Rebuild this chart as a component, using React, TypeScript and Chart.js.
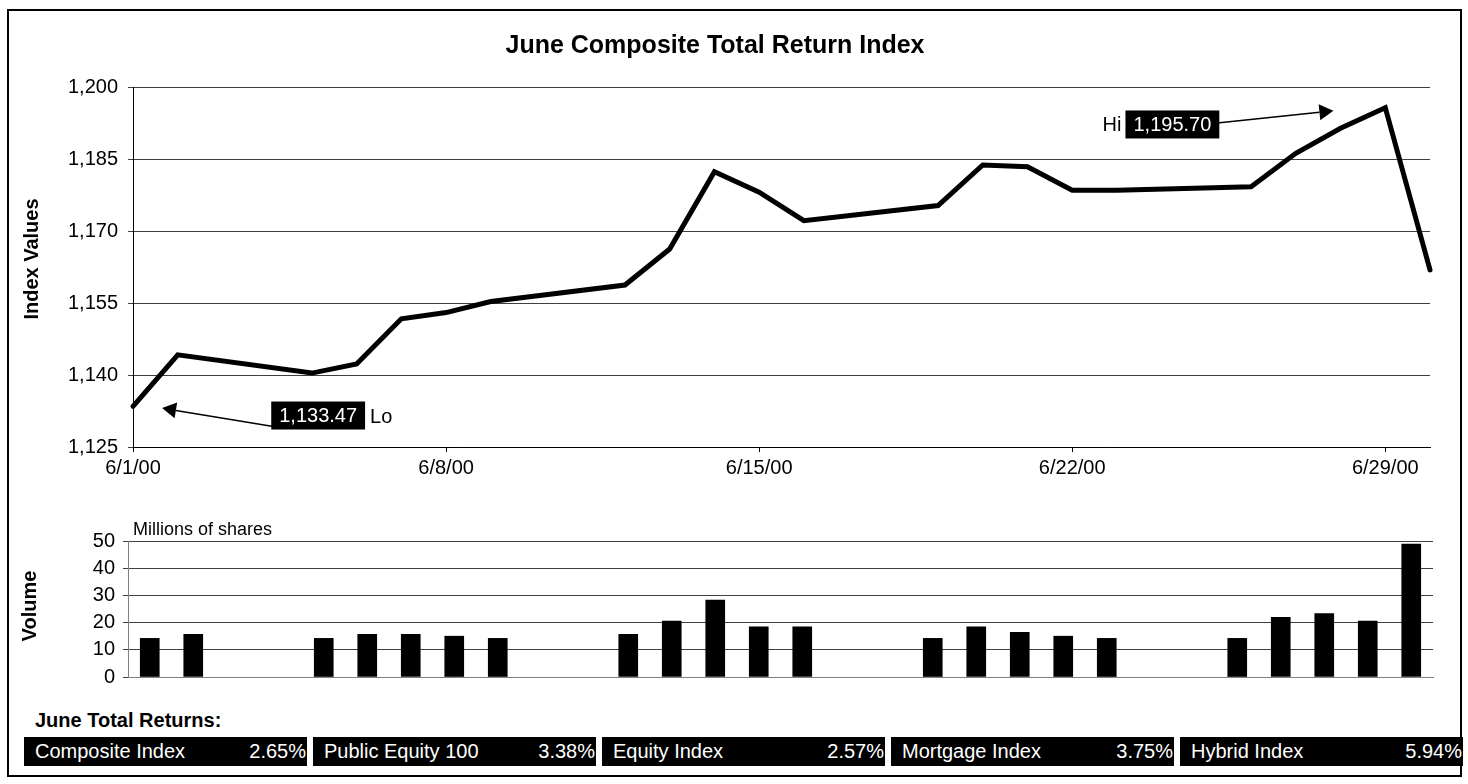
import React, { useEffect, useRef } from 'react';
import { Chart, registerables } from 'chart.js';

Chart.register(...registerables);

const FONT_FAMILY = '"Liberation Sans", Arial, Helvetica, sans-serif';

// ---- data ----
const tradingDays = [
  '6/1/00', '6/2/00', '6/5/00', '6/6/00', '6/7/00', '6/8/00', '6/9/00',
  '6/12/00', '6/13/00', '6/14/00', '6/15/00', '6/16/00',
  '6/19/00', '6/20/00', '6/21/00', '6/22/00', '6/23/00',
  '6/26/00', '6/27/00', '6/28/00', '6/29/00', '6/30/00',
];
const indexValues = [
  1133.47, 1144.2, 1140.4, 1142.3, 1151.7, 1153.0, 1155.3,
  1158.75, 1166.25, 1182.35, 1178.1, 1172.15,
  1175.3, 1183.75, 1183.4, 1178.5, 1178.5,
  1179.2, 1186.2, 1191.4, 1195.7, 1161.9,
];
const volumeMillions = [
  14.2, 15.7, 14.2, 15.7, 15.7, 15.0, 14.2,
  15.7, 20.6, 28.3, 18.4, 18.4,
  14.2, 18.4, 16.4, 15.0, 14.2,
  14.2, 21.9, 23.3, 20.6, 48.9,
];
const dateTickLabels = ['6/1/00', '6/8/00', '6/15/00', '6/22/00', '6/29/00'];
const indexTicks = [1125, 1140, 1155, 1170, 1185, 1200];
const volumeTicks = [0, 10, 20, 30, 40, 50];
const returnNames = ['Composite Index', 'Public Equity 100', 'Equity Index', 'Mortgage Index', 'Hybrid Index'];
const returnValues = ['2.65%', '3.38%', '2.57%', '3.75%', '5.94%'];

// day offset from June 1 for a "m/d/yy" label
const dayOf = (label: string) => Number(label.split('/')[1]) - 1;
const fmt = (v: number, d = 0) =>
  v.toLocaleString('en-US', { minimumFractionDigits: d, maximumFractionDigits: d });

const loValue = Math.min(...indexValues);
const hiValue = Math.max(...indexValues);

// callout placement (in day / index units)
const callouts = [
  { text: fmt(loValue, 2), tag: 'Lo', tagSide: 'right', box: [4.14, 1131.56], tip: [0.65, 1133.1], startDy: 11 },
  { text: fmt(hiValue, 2), tag: 'Hi', tagSide: 'left', box: [23.24, 1192.19], tip: [26.84, 1195.06], startDy: -1.5 },
];

const calloutPlugin = {
  id: 'callouts',
  afterDatasetsDraw(chart: any) {
    const { ctx } = chart;
    const x = chart.scales.x;
    const y = chart.scales.y;
    ctx.save();
    ctx.font = `20px ${FONT_FAMILY}`;
    for (const n of callouts) {
      const cx = x.getPixelForValue(n.box[0]);
      const cy = y.getPixelForValue(n.box[1]);
      const tw = ctx.measureText(n.text).width;
      const w = tw + 16;
      const h = 28;
      const left = cx - w / 2;
      const top = cy - h / 2;
      const tipX = x.getPixelForValue(n.tip[0]);
      const tipY = y.getPixelForValue(n.tip[1]);
      const sx = n.tagSide === 'right' ? left + 2 : left + w - 2;
      const sy = cy + n.startDy;
      const ang = Math.atan2(tipY - sy, tipX - sx);
      const headLen = 14;
      const headHalf = 8;
      const bx = tipX - headLen * Math.cos(ang);
      const by = tipY - headLen * Math.sin(ang);
      ctx.strokeStyle = '#000';
      ctx.lineWidth = 1.5;
      ctx.beginPath();
      ctx.moveTo(sx, sy);
      ctx.lineTo(bx, by);
      ctx.stroke();
      ctx.fillStyle = '#000';
      ctx.beginPath();
      ctx.moveTo(tipX, tipY);
      ctx.lineTo(bx + headHalf * Math.sin(ang), by - headHalf * Math.cos(ang));
      ctx.lineTo(bx - headHalf * Math.sin(ang), by + headHalf * Math.cos(ang));
      ctx.closePath();
      ctx.fill();
      ctx.fillRect(left, top, w, h);
      ctx.fillStyle = '#fff';
      ctx.textAlign = 'center';
      ctx.textBaseline = 'middle';
      ctx.fillText(n.text, cx, cy + 1);
      ctx.fillStyle = '#000';
      if (n.tagSide === 'right') {
        ctx.textAlign = 'left';
        ctx.fillText(n.tag, left + w + 5, cy + 2);
      } else {
        ctx.textAlign = 'right';
        ctx.fillText(n.tag, left - 4, cy + 1);
      }
    }
    ctx.restore();
  },
};

const freeTextPlugin = {
  id: 'freeText',
  afterDraw(chart: any, _args: any, opts: any) {
    const { ctx, chartArea } = chart;
    for (const t of opts.items || []) {
      ctx.save();
      ctx.font = t.font;
      ctx.fillStyle = '#000';
      ctx.textAlign = t.align || 'center';
      ctx.textBaseline = 'middle';
      let px = t.x;
      let py = (chartArea.top + chartArea.bottom) / 2 + (t.dy || 0);
      if (t.anchor === 'areaTopLeft') {
        px = chartArea.left + t.dx;
        py = chartArea.top + t.dy;
      }
      ctx.translate(px, py);
      ctx.rotate(t.rotation || 0);
      ctx.fillText(t.text, 0, 0);
      ctx.restore();
    }
  },
};

const tickFont = { family: FONT_FAMILY, size: 20 };
const gridColor = '#404040';

function IndexChart() {
  const ref = useRef<HTMLCanvasElement>(null);
  useEffect(() => {
    const chart = new Chart(ref.current!, {
      type: 'line',
      data: {
        datasets: [
          {
            data: tradingDays.map((d, i) => ({ x: dayOf(d), y: indexValues[i] })),
            borderColor: '#000',
            borderWidth: 5,
            pointRadius: 0,
            tension: 0,
            borderJoinStyle: 'miter',
            borderCapStyle: 'round',
            clip: false,
          },
        ],
      },
      options: {
        responsive: false,
        animation: false,
        devicePixelRatio: 1,
        layout: { padding: { left: 0, right: 38, top: 0, bottom: 0 } },
        plugins: {
          legend: { display: false },
          tooltip: { enabled: false },
          title: {
            display: true,
            text: 'June Composite Total Return Index',
            color: '#000',
            font: { family: FONT_FAMILY, size: 25, weight: 'bold', lineHeight: 1.2 },
            padding: { top: 31, bottom: 26 },
          },
          freeText: {
            items: [
              { text: 'Index Values', x: 32, dy: -8, rotation: -Math.PI / 2, font: `bold 20px ${FONT_FAMILY}` },
            ],
          },
        } as any,
        scales: {
          x: {
            type: 'linear',
            min: 0,
            max: 29,
            offset: false,
            afterBuildTicks: (s: any) => {
              s.ticks = dateTickLabels.map((l) => ({ value: dayOf(l) }));
            },
            afterFit: (s: any) => {
              s.height = 53;
            },
            ticks: {
              callback: (_v: any, i: number) => dateTickLabels[i],
              font: tickFont,
              color: '#000',
              padding: 4,
              maxRotation: 0,
              autoSkip: false,
            },
            grid: { drawOnChartArea: false, drawTicks: true, tickLength: 5, color: '#000' },
            border: { display: true, color: '#000', width: 1 },
          },
          y: {
            min: 1125,
            max: 1200,
            afterBuildTicks: (s: any) => {
              s.ticks = indexTicks.map((v) => ({ value: v }));
            },
            afterFit: (s: any) => {
              s.width = 133;
            },
            ticks: {
              callback: (v: any) => fmt(Number(v)),
              font: tickFont,
              color: '#000',
              padding: 10,
            },
            grid: { color: gridColor, drawTicks: true, tickLength: 5, lineWidth: 1 },
            border: { display: true, color: '#000', width: 1 },
          },
        },
      } as any,
      plugins: [calloutPlugin, freeTextPlugin],
    });
    return () => chart.destroy();
  }, []);
  return (
    <canvas
      ref={ref}
      width={1468}
      height={500}
      style={{ position: 'absolute', left: 0, top: 0, width: 1468, height: 500 }}
    />
  );
}

function VolumeChart() {
  const ref = useRef<HTMLCanvasElement>(null);
  useEffect(() => {
    const chart = new Chart(ref.current!, {
      type: 'bar',
      data: {
        datasets: [
          {
            data: tradingDays.map((d, i) => ({ x: dayOf(d), y: volumeMillions[i] })),
            backgroundColor: '#000',
            borderWidth: 0,
            barThickness: 19,
          },
        ],
      },
      options: {
        responsive: false,
        animation: false,
        devicePixelRatio: 1,
        layout: { padding: { left: 0, right: 35, top: 41, bottom: 0 } },
        plugins: {
          legend: { display: false },
          tooltip: { enabled: false },
          freeText: {
            items: [
              { text: 'Volume', x: 30, dy: -3, rotation: -Math.PI / 2, font: `bold 20px ${FONT_FAMILY}` },
              { text: 'Millions of shares', anchor: 'areaTopLeft', dx: 5, dy: -11, align: 'left', font: `18px ${FONT_FAMILY}` },
            ],
          },
        } as any,
        scales: {
          x: {
            type: 'linear',
            min: -0.5,
            max: 29.5,
            offset: false,
            ticks: { display: false },
            grid: { display: false, offset: false },
            border: { display: true, color: '#808080', width: 1 },
            afterFit: (s: any) => {
              s.height = 23;
            },
          },
          y: {
            min: 0,
            max: 50,
            afterBuildTicks: (s: any) => {
              s.ticks = volumeTicks.map((v) => ({ value: v }));
            },
            afterFit: (s: any) => {
              s.width = 128;
            },
            ticks: { font: tickFont, color: '#000', padding: 8 },
            grid: { color: gridColor, drawTicks: true, tickLength: 5, lineWidth: 1 },
            border: { display: true, color: '#808080', width: 1 },
          },
        },
      } as any,
      plugins: [freeTextPlugin],
    });
    return () => chart.destroy();
  }, []);
  return (
    <canvas
      ref={ref}
      width={1468}
      height={200}
      style={{ position: 'absolute', left: 0, top: 500, width: 1468, height: 200 }}
    />
  );
}

export default function App() {
  return (
    <div style={{ position: 'absolute', left: 0, top: 0, width: 1468, height: 784, fontFamily: FONT_FAMILY, background: '#fff' }}>
      <div
        style={{
          position: 'absolute',
          left: 7,
          top: 9,
          width: 1455,
          height: 768,
          border: '2px solid #000',
          boxSizing: 'border-box',
        }}
      />
      <IndexChart />
      <VolumeChart />
      <div
        style={{
          position: 'absolute',
          left: 35,
          top: 709,
          fontSize: 20,
          lineHeight: '22px',
          fontWeight: 'bold',
          color: '#000',
        }}
      >
        June Total Returns:
      </div>
      <div
        style={{
          position: 'absolute',
          left: 24,
          top: 737,
          width: 1439,
          display: 'grid',
          gridTemplateColumns: 'repeat(5, 1fr)',
          columnGap: 6,
        }}
      >
        {returnNames.map((name, i) => (
          <div
            key={name}
            style={{
              background: '#000',
              color: '#fff',
              height: 29,
              lineHeight: '29px',
              fontSize: 20,
              display: 'flex',
              justifyContent: 'space-between',
              padding: '0 1px 0 11px',
              whiteSpace: 'nowrap',
            }}
          >
            <span>{name}</span>
            <span>{returnValues[i]}</span>
          </div>
        ))}
      </div>
    </div>
  );
}
